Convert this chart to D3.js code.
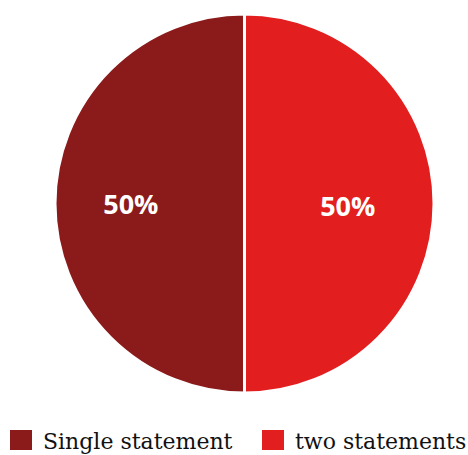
<!DOCTYPE html>
<html lang="en">
	<head>
		<meta charset="utf-8">
		<title>D3: Pie</title>
		<script type="text/javascript" src="https://cdn.jsdelivr.net/npm/d3@7"></script>
		<style type="text/css">
			body { margin: 0; background: #fff; }
		</style>
	</head>
	<body>
		<script type="text/javascript">

			//Data
			var categories = ["Single statement", "two statements"];
			var values = [50, 50];
			var colors = ["#8b1a1a", "#e31e1e"];

			//Width and height
			var w = 468;
			var h = 455;
			var cx = 244.5, cy = 203.5, radius = 189.5;

			var svg = d3.select("body")
						.append("svg")
						.attr("width", w)
						.attr("height", h);

			var dataset = categories.map(function(c, i) {
				return { name: c, value: values[i], color: colors[i] };
			});

			//Pie starts at 12 o'clock, first slice goes anticlockwise (left side)
			var pie = d3.pie()
						.sort(null)
						.value(function(d) { return d.value; })
						.startAngle(0)
						.endAngle(-2 * Math.PI);

			var arc = d3.arc()
						.innerRadius(0)
						.outerRadius(radius);

			//label distance from centre differs a little per slice in the original
			var labelFactor = [0.6, 0.545];

			var g = svg.append("g")
					   .attr("transform", "translate(" + cx + "," + cy + ")");

			var arcs = g.selectAll("g.arc")
						.data(pie(dataset))
						.enter()
						.append("g")
						.attr("class", "arc");

			arcs.append("path")
				.attr("d", arc)
				.attr("fill", function(d) { return d.data.color; })
				.attr("stroke", "#fff")
				.attr("stroke-width", 3);

			arcs.append("text")
				.attr("transform", function(d, i) {
					var r = radius * labelFactor[i];
					var c = d3.arc().innerRadius(r).outerRadius(r).centroid(d);
					return "translate(" + c[0] + "," + (c[1] + 10 + i * 2) + ")";
				})
				.attr("text-anchor", "middle")
				.attr("font-family", "'Open Sans', sans-serif")
				.attr("font-weight", "bold")
				.attr("font-size", "27px")
				.attr("fill", "#fff")
				.text(function(d) { return d.data.value + "%"; });

			//Legend
			var legendX = [10, 262];
			var legend = svg.selectAll("g.legend")
							.data(dataset)
							.enter()
							.append("g")
							.attr("class", "legend")
							.attr("transform", function(d, i) {
								return "translate(" + legendX[i] + ",430)";
							});

			legend.append("rect")
				  .attr("width", 22)
				  .attr("height", 20)
				  .attr("fill", function(d) { return d.color; });

			legend.append("text")
				  .attr("x", 33)
				  .attr("y", 19)
				  .attr("font-family", "'DejaVu Serif', serif")
				  .attr("font-size", "22px")
				  .attr("fill", "#111")
				  .text(function(d) { return d.name; });

		</script>
	</body>
</html>
